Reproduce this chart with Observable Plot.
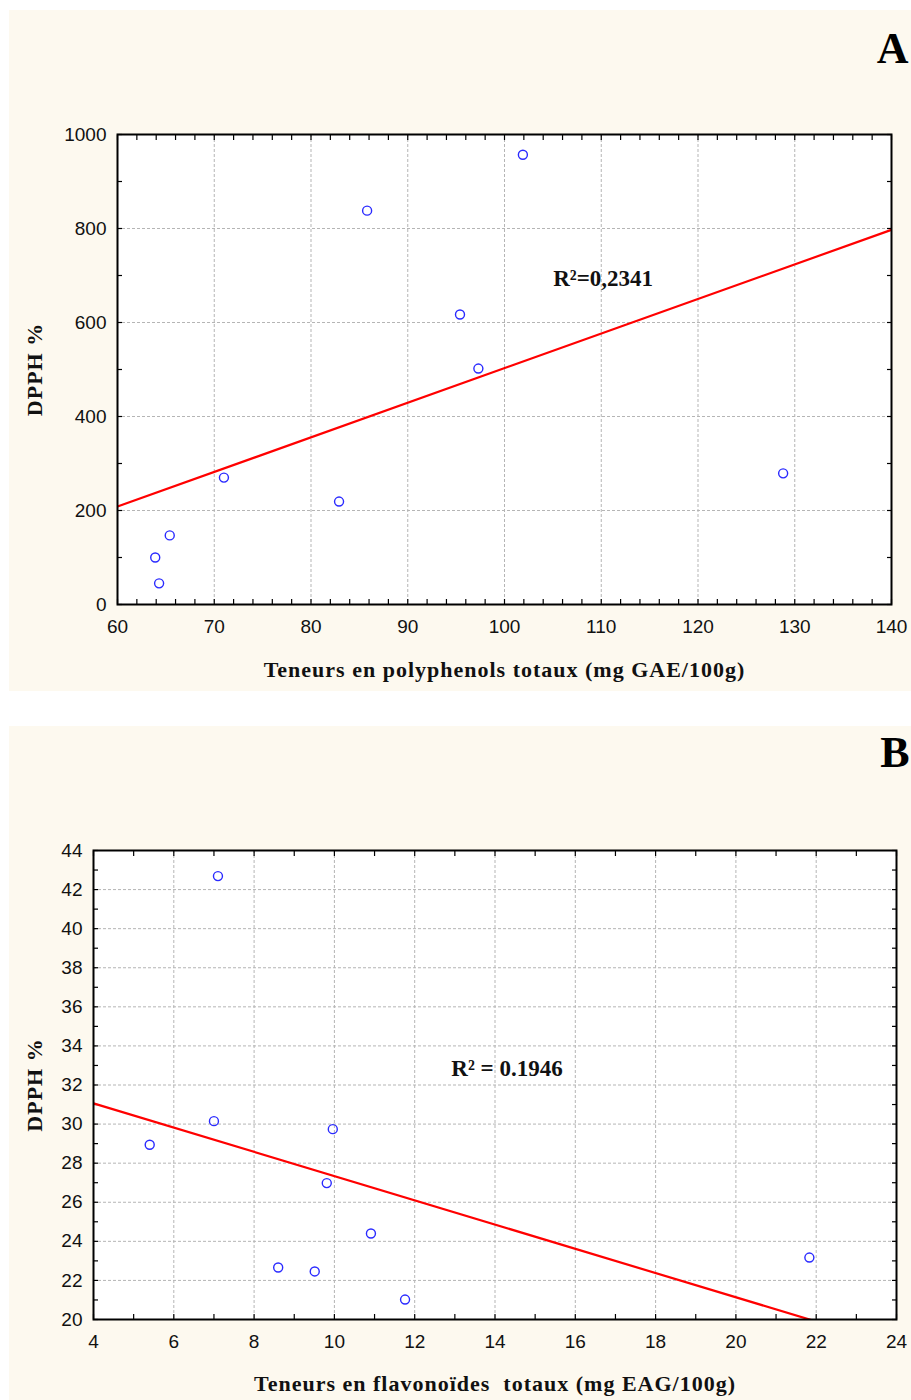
<!DOCTYPE html>
<html><head><meta charset="utf-8">
<script src="https://cdn.jsdelivr.net/npm/d3@7"></script>
<script src="https://cdn.jsdelivr.net/npm/@observablehq/plot@0.6"></script>
<style>
body{margin:0;background:#fff;width:911px;height:1400px;position:relative;overflow:hidden}
.panel{position:absolute;left:9px;width:902px;background:#fdf9ef}
</style></head><body>
<div id="a" class="panel" style="top:10px;height:681px"></div>
<div id="b" class="panel" style="top:726px;height:674px"></div>
<script>
// Panel A data
const polyphenols = [85.8, 101.9, 95.4, 97.3, 71.0, 82.9, 128.8, 65.4, 63.9, 64.3];
const dpphA = [838, 957, 617, 502, 270, 219, 279, 147, 100, 45];
const xTicksA = [60, 70, 80, 90, 100, 110, 120, 130, 140];
const yTicksA = [0, 200, 400, 600, 800, 1000];
const annotA = [{x: 110.2, y: 694, text: "R²=0,2341"}];

// Panel B data
const flavonoids = [5.4, 7.0, 9.96, 9.81, 10.91, 8.6, 9.51, 11.76, 7.1, 21.83];
const dpphB = [28.94, 30.15, 29.74, 26.98, 24.4, 22.66, 22.46, 21.02, 42.69, 23.17];
const xTicksB = [4, 6, 8, 10, 12, 14, 16, 18, 20, 22, 24];
const yTicksB = [20, 22, 24, 26, 28, 30, 32, 34, 36, 38, 40, 42, 44];
const annotB = [{x: 14.3, y: 32.85, text: "R² = 0.1946"}];

const SANS = "'Liberation Sans', Arial, sans-serif";
const SERIF = "'Liberation Serif', 'Times New Roman', serif";

function fit(xs, ys) {
  const mx = d3.mean(xs), my = d3.mean(ys);
  const b = d3.sum(xs, (x, i) => (x - mx) * (ys[i] - my)) / d3.sum(xs, x => (x - mx) ** 2);
  return {a: my - b * mx, b};
}
function minor(domain, step) {
  return d3.range(domain[0], domain[1] + step / 2, step);
}

function panel(cfg) {
  const pts = cfg.xs.map((x, i) => ({x, y: cfg.ys[i]}));
  const {a, b} = fit(cfg.xs, cfg.ys);
  const line = cfg.xDomain.map(x => ({x, y: a + b * x}));
  const tickOpts = {tickSize: -5, tickFormat: () => "", label: null, stroke: "black", strokeWidth: 1.2};
  const grid = {stroke: "#b5b5b5", strokeOpacity: 1, strokeDasharray: "3,2"};
  const titleFont = {fontSize: 22, fontWeight: "bold", fontFamily: SERIF, fill: "#111"};
  const svg = Plot.plot({
    width: 902, height: cfg.height,
    marginLeft: cfg.ml, marginRight: cfg.mr, marginTop: cfg.mt, marginBottom: cfg.mb,
    style: {background: "transparent", fontFamily: SANS, overflow: "visible"},
    x: {domain: cfg.xDomain},
    y: {domain: cfg.yDomain},
    marks: [
      Plot.frame({fill: "white", stroke: null}),
      Plot.gridX(cfg.xTicks, grid),
      Plot.gridY(cfg.yTicks, grid),
      Plot.axisX(minor(cfg.xDomain, cfg.xMinor), {anchor: "bottom", ...tickOpts}),
      Plot.axisX(minor(cfg.xDomain, cfg.xMinor), {anchor: "top", ...tickOpts}),
      Plot.axisY(minor(cfg.yDomain, cfg.yMinor), {anchor: "left", ...tickOpts}),
      Plot.axisY(minor(cfg.yDomain, cfg.yMinor), {anchor: "right", ...tickOpts}),
      Plot.axisX(cfg.xTicks, {anchor: "bottom", tickSize: 0, tickPadding: 15, tickFormat: d => String(d), label: null, fontSize: 19, fontFamily: SANS, fill: "#111"}),
      Plot.axisY(cfg.yTicks, {anchor: "left", tickSize: 0, tickPadding: 11, tickFormat: d => String(d), label: null, fontSize: 19, fontFamily: SANS, fill: "#111"}),
      Plot.line(line, {x: "x", y: "y", stroke: "#ff0000", strokeWidth: 2.2, clip: true}),
      Plot.dot(pts, {x: "x", y: "y", r: 4.5, stroke: "#2a2aff", strokeWidth: 1.4, fill: "none"}),
      Plot.text(cfg.annot, {x: "x", y: "y", text: "text", fontSize: 23, fontWeight: "bold", fontFamily: SERIF, fill: "#111"}),
      Plot.text([cfg.xLabel], {frameAnchor: "bottom", textAnchor: "middle", dy: cfg.xLabelDy, lineAnchor: "middle", ...titleFont}),
      Plot.text([cfg.yLabel], {frameAnchor: "left", textAnchor: "middle", rotate: -90, dx: cfg.yLabelDx, lineAnchor: "middle", ...titleFont}),
      Plot.text([cfg.letter], {frameAnchor: "top-right", textAnchor: "end", lineAnchor: "bottom", dx: cfg.letterDx, dy: cfg.letterDy, fontSize: 44, fontWeight: "bold", fontFamily: SERIF, fill: "#000"}),
      Plot.frame({stroke: "black", strokeWidth: 2})
    ]
  });
  d3.select(svg).selectAll("text")
    .filter(function() { return this.textContent === cfg.xLabel || this.textContent === cfg.yLabel; })
    .attr("letter-spacing", "1px")
    .style("white-space", "pre");
  return svg;
}

document.getElementById("a").append(panel({
  xs: polyphenols, ys: dpphA, height: 681,
  ml: 108, mr: 20, mt: 124, mb: 87,
  xDomain: [60, 140], yDomain: [0, 1000],
  xTicks: xTicksA, yTicks: yTicksA, xMinor: 2, yMinor: 100,
  annot: annotA,
  xLabel: "Teneurs en polyphenols totaux (mg GAE/100g)", xLabelDy: 65,
  yLabel: "DPPH %", yLabelDx: -83,
  letter: "A", letterDx: 17, letterDy: -72
}));
document.getElementById("b").append(panel({
  xs: flavonoids, ys: dpphB, height: 674,
  ml: 84, mr: 15, mt: 124, mb: 81,
  xDomain: [4, 24], yDomain: [20, 44],
  xTicks: xTicksB, yTicks: yTicksB, xMinor: 1, yMinor: 1,
  annot: annotB,
  xLabel: "Teneurs en flavonoïdes  totaux (mg EAG/100g)", xLabelDy: 64,
  yLabel: "DPPH %", yLabelDx: -59,
  letter: "B", letterDx: 13, letterDy: -84
}));
</script>
</body></html>
